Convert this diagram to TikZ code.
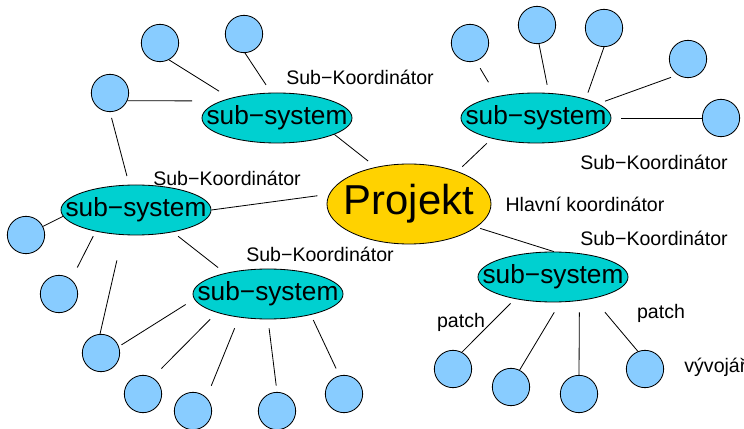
\documentclass[tikz,border=0pt]{standalone}
\usepackage{fontspec}
\setmainfont{Liberation Sans}
\usetikzlibrary{shapes.geometric}

\definecolor{projgold}{RGB}{255,210,0}
\definecolor{subcyan}{RGB}{0,208,208}
\definecolor{devblue}{RGB}{136,204,255}

\tikzset{
  proj/.style={ellipse, draw, fill=projgold, minimum width=4.92cm, minimum height=2.4cm, inner sep=0pt,
    label={[font=\fontsize{35.7}{40}\selectfont]center:Projekt}},
  subsys/.style={ellipse, draw, fill=subcyan, minimum width=4.5cm, minimum height=1.5cm, inner sep=0pt,
    label={[font=\fontsize{22.4}{26}\selectfont]center:sub−system}},
  dev/.style={circle, draw, fill=devblue, minimum size=1.12cm, inner sep=0pt},
  txt/.style={font=\fontsize{16.7}{20}\selectfont, inner sep=0pt},
  link/.style={line width=0.7pt}
}

\begin{document}
\begin{tikzpicture}[x=0.03cm, y=-0.03cm, line width=0.7pt]
  \useasboundingbox (0,0) rectangle (744,429);

  \node[proj] (proj) at (409,204) {};
  \node[subsys] (sub1) at (277,118) {};
  \node[subsys] (sub2) at (536,118) {};
  \node[subsys] (sub3) at (136,210) {};
  \node[subsys] (sub4) at (268,294) {};
  \node[subsys] (sub5) at (553,277) {};

  \node[dev] (dev1) at (160,43) {};
  \node[dev] (dev2) at (244,34) {};
  \node[dev] (dev3) at (110,93) {};
  \node[dev] (dev4) at (470,43) {};
  \node[dev] (dev5) at (537,25) {};
  \node[dev] (dev6) at (604,28) {};
  \node[dev] (dev7) at (688,59) {};
  \node[dev] (dev8) at (721,118) {};
  \node[dev] (dev9) at (26,235) {};
  \node[dev] (dev10) at (59,294) {};
  \node[dev] (dev11) at (101,353) {};
  \node[dev] (dev12) at (453,369) {};
  \node[dev] (dev13) at (511,387) {};
  \node[dev] (dev14) at (579,394) {};
  \node[dev] (dev15) at (645,369) {};
  \node[dev] (dev16) at (143,394) {};
  \node[dev] (dev17) at (193,411) {};
  \node[dev] (dev18) at (277,411) {};
  \node[dev] (dev19) at (344,394) {};

  \node[txt] (sk1) at (360,77) {Sub−Koordinátor};
  \node[txt] (sk2) at (227,178) {Sub−Koordinátor};
  \node[txt] (sk3) at (654,162) {Sub−Koordinátor};
  \node[txt] (sk4) at (320,254) {Sub−Koordinátor};
  \node[txt] (sk5) at (654,238) {Sub−Koordinátor};
  \node[txt] (hk) at (585,204) {Hlavní koordinátor};
  \node[txt] (patch1) at (461,322) {patch};
  \node[txt] (patch2) at (661,313) {patch};
  \node[txt, anchor=west] (vyv) at (684,367) {vývojář};

  % top left
  \draw[link, shorten >=0.39cm] (dev1.-62) -- (sub1.157);
  \draw[link, shorten >=0.28cm] (dev2.-87) -- (sub1.103);
  \draw[link, shorten >=0.87cm] (dev3.-24) -- (sub1.163);
  \draw[link, shorten <=0.18cm, shorten >=0.27cm] (dev3.-90) -- (sub3.105);
  \draw[link, shorten >=0.29cm] (sub1.-16) -- (proj.132);
  \draw[link, shorten >=0.35cm] (sub3.0) -- (proj.173);

  % top right
  \draw[link, shorten <=0.25cm, shorten >=0.49cm] (dev4.-72) -- (sub2.151);
  \draw[link, shorten >=0.25cm] (dev5.-84) -- (sub2.63);
  \draw[link, shorten >=0.2cm] (dev6.-90) -- (sub2.21);
  \draw[link, shorten <=0.21cm, shorten >=0.22cm] (dev7.-123) -- (sub2.13);
  \draw[link, shorten >=0.3cm] (dev8.180) -- (sub2.0);
  \draw[link, shorten <=0.21cm, shorten >=0.2cm] (sub2.205) -- (proj.34);

  % bottom right
  \draw[link, shorten <=0.12cm] (proj.-19) -- (sub5.88);
  \draw[link, shorten <=0.19cm] (sub5.-150) -- (dev12.62);
  \draw[link, shorten <=0.35cm] (sub5.-74) -- (dev13.63);
  \draw[link, shorten <=0.35cm] (sub5.-42) -- (dev14.90);
  \draw[link, shorten <=0.54cm] (sub5.-28.5) -- (dev15.112);

  % left
  \draw[link] (sub3.185) -- (dev9.27);
  \draw[link, shorten <=0.16cm, shorten >=0.4cm] (sub3.-152) -- (dev10.50);
  \draw[link, shorten <=0.78cm] (sub3.-118) -- (dev11.93);
  \draw[link, shorten <=0.2cm, shorten >=0.27cm] (sub3.-31.5) -- (sub4.154.5);

  % bottom left
  \draw[link, shorten <=0.3cm, shorten >=0.09cm] (sub4.184) -- (dev11.20);
  \draw[link, shorten <=0.28cm, shorten >=0.38cm] (sub4.-160) -- (dev16.60);
  \draw[link, shorten <=0.35cm, shorten >=0.38cm] (sub4.-141) -- (dev17.45);
  \draw[link, shorten <=0.27cm, shorten >=0.19cm] (sub4.-90) -- (dev18.90);
  \draw[link, shorten <=0.17cm, shorten >=0.23cm] (sub4.-26.7) -- (dev19.104);
\end{tikzpicture}
\end{document}
